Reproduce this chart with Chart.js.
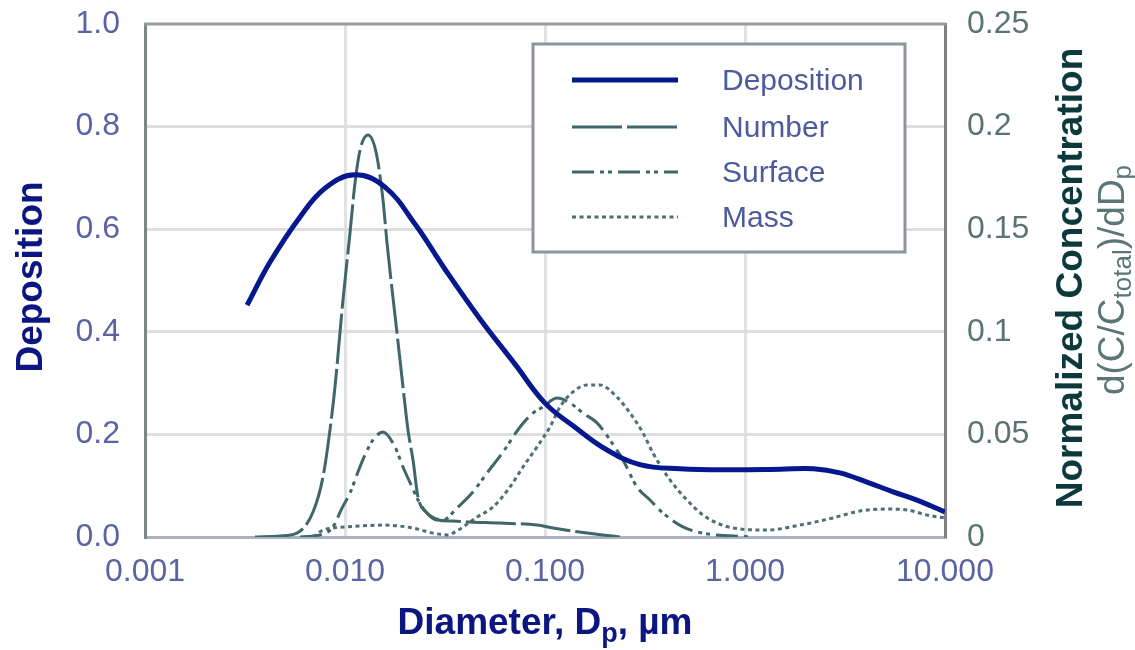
<!DOCTYPE html>
<html>
<head>
<meta charset="utf-8">
<script src="https://cdn.jsdelivr.net/npm/chart.js@4.4.0/dist/chart.umd.min.js"></script>
<style>
  html, body { margin: 0; padding: 0; background: #fff; }
  #wrap { width: 1135px; height: 650px; position: relative; }
</style>
</head>
<body>
<div id="wrap"><canvas id="chart" width="1135" height="650"></canvas></div>
<script>
// Diameter (um) and values
const depX = [0.00324, 0.00422, 0.00596, 0.00794, 0.0112, 0.01585, 0.02239, 0.03162, 0.04732, 0.07079, 0.1, 0.1413, 0.1995, 0.2985, 0.4732, 0.871, 1.5, 2.2, 2.985, 4.07, 5.50, 7.24, 10];
const depY = [0.452, 0.536, 0.624, 0.680, 0.706, 0.682, 0.610, 0.522, 0.425, 0.337, 0.261, 0.214, 0.172, 0.141, 0.133, 0.131, 0.132, 0.133, 0.125, 0.107, 0.088, 0.072, 0.049];

const numX = [0.00355, 0.00473, 0.00575, 0.00692, 0.00776, 0.00841, 0.00891, 0.00977, 0.01059, 0.01122, 0.01189, 0.01303, 0.01429, 0.01549, 0.01622, 0.0182, 0.0195, 0.02065, 0.02188, 0.02317, 0.0257, 0.02884, 0.03467, 0.04217, 0.05957, 0.0912, 0.1096, 0.1622, 0.195, 0.237];
const numY = [0, 0.0005, 0.0019, 0.0122, 0.0292, 0.0521, 0.0731, 0.1155, 0.1481, 0.1725, 0.1886, 0.1959, 0.1876, 0.1642, 0.1433, 0.0994, 0.0731, 0.0521, 0.0375, 0.0195, 0.0117, 0.0083, 0.0078, 0.0073, 0.0068, 0.0058, 0.0044, 0.0019, 0.001, 0];

const surfX = [0.00596, 0.00776, 0.00871, 0.00966, 0.01059, 0.01161, 0.01259, 0.0138, 0.01549, 0.01778, 0.0195, 0.02163, 0.02317, 0.0257, 0.0309, 0.03631, 0.04315, 0.05129, 0.06166, 0.075, 0.0871, 0.0977, 0.1148, 0.1334, 0.1549, 0.182, 0.2113, 0.2455, 0.2884, 0.335, 0.389, 0.4898, 0.6166, 1.059];
const surfY = [0, 0.0015, 0.0049, 0.0141, 0.0214, 0.0317, 0.04, 0.0473, 0.0512, 0.0439, 0.0341, 0.0244, 0.018, 0.0117, 0.0083, 0.0141, 0.0214, 0.0312, 0.0414, 0.0536, 0.0604, 0.0634, 0.0677, 0.0653, 0.0604, 0.0556, 0.0473, 0.0375, 0.0244, 0.018, 0.0117, 0.0049, 0.0019, 0];

const massX = [0.00692, 0.00776, 0.01023, 0.01549, 0.02188, 0.02754, 0.03236, 0.03467, 0.04571, 0.05495, 0.06683, 0.07762, 0.0912, 0.1059, 0.1189, 0.138, 0.1622, 0.1884, 0.2291, 0.2661, 0.309, 0.3467, 0.4217, 0.5129, 0.6166, 0.7244, 0.871, 1.288, 1.884, 2.754, 3.758, 5.129, 6.457, 8.128, 10];
const massY = [0, 0.0034, 0.0049, 0.0058, 0.0044, 0.0019, 0.001, 0.0019, 0.0097, 0.0146, 0.0244, 0.0341, 0.0439, 0.0536, 0.0634, 0.0707, 0.0741, 0.0741, 0.0682, 0.0604, 0.0507, 0.0409, 0.0278, 0.018, 0.0107, 0.0068, 0.0044, 0.0034, 0.0058, 0.0093, 0.0127, 0.0136, 0.0132, 0.0107, 0.0093];

const xTicks = [0.001, 0.01, 0.1, 1, 10];
const seriesNames = ['Deposition', 'Number', 'Surface', 'Mass'];

const pts = (xs, ys) => xs.map((x, i) => ({ x: x, y: ys[i] }));

Chart.defaults.font.family = "'Liberation Sans', Arial, sans-serif";

// frame, axis titles and legend box
const decor = {
    id: 'decor',
    afterDatasetsDraw(chart) {
        const ctx = chart.ctx;
        const a = chart.chartArea;
        ctx.save();

        // top frame line
        ctx.strokeStyle = '#9a9a9a';
        ctx.lineWidth = 3;
        ctx.beginPath();
        ctx.moveTo(a.left - 1, a.top);
        ctx.lineTo(a.right + 1, a.top);
        ctx.stroke();

        // legend
        const lx = 533, ly = 44, lw = 372, lh = 208;
        ctx.fillStyle = '#fff';
        ctx.fillRect(lx, ly, lw, lh);
        ctx.strokeStyle = '#8e939e';
        ctx.strokeRect(lx, ly, lw, lh);
        const rows = [80, 127, 172, 217];
        chart.data.datasets.forEach((ds, i) => {
            ctx.beginPath();
            ctx.setLineDash(ds.borderDash || []);
            ctx.strokeStyle = ds.borderColor;
            ctx.lineWidth = ds.borderWidth;
            ctx.moveTo(572, rows[i]);
            ctx.lineTo(678, rows[i]);
            ctx.stroke();
            ctx.setLineDash([]);
            ctx.fillStyle = '#4d5a9e';
            ctx.font = "30px 'Liberation Sans', Arial, sans-serif";
            ctx.textAlign = 'left';
            ctx.textBaseline = 'alphabetic';
            ctx.fillText(ds.label, 722, rows[i] + 10);
        });

        const big = "bold 37px 'Liberation Sans', Arial, sans-serif";
        const small = "bold 27px 'Liberation Sans', Arial, sans-serif";

        // left title
        ctx.fillStyle = '#0b1680';
        ctx.font = big;
        ctx.save();
        ctx.translate(42, 277);
        ctx.rotate(-Math.PI / 2);
        ctx.textAlign = 'center';
        ctx.fillText('Deposition', 0, 0);
        ctx.restore();

        // x title with subscript
        drawRuns(ctx, [['Diameter, D', big, 0], ['p', small, 8], [', \u00b5m', big, 0]], 545, 634, 0);

        // right titles
        ctx.fillStyle = '#0c3a3c';
        ctx.save();
        ctx.translate(1082, 278);
        ctx.rotate(-Math.PI / 2);
        ctx.textAlign = 'center';
        ctx.font = big;
        ctx.fillText('Normalized Concentration', 0, 0);
        ctx.restore();

        ctx.fillStyle = '#5b7676';
        const reg = "37px 'Liberation Sans', Arial, sans-serif";
        const sub = "26px 'Liberation Sans', Arial, sans-serif";
        drawRuns(ctx, [['d(C/C', reg, 0], ['total', sub, 7], [')/dD', reg, 0], ['p', sub, 7]], 1124, 280, -Math.PI / 2);

        ctx.restore();
    }
};

function drawRuns(ctx, runs, cx, cy, angle) {
    ctx.save();
    ctx.translate(cx, cy);
    ctx.rotate(angle);
    ctx.textAlign = 'left';
    ctx.textBaseline = 'alphabetic';
    let w = 0;
    runs.forEach(r => { ctx.font = r[1]; w += ctx.measureText(r[0]).width; });
    let x = -w / 2;
    runs.forEach(r => {
        ctx.font = r[1];
        ctx.fillText(r[0], x, r[2]);
        x += ctx.measureText(r[0]).width;
    });
    ctx.restore();
}

const noPad = s => { s.paddingTop = 0; s.paddingBottom = 0; };
const teal = '#3f6668';

new Chart(document.getElementById('chart'), {
    type: 'line',
    data: {
        datasets: [
            { label: seriesNames[0], data: pts(depX, depY), yAxisID: 'y', borderColor: '#06188f', borderWidth: 5, borderDash: [], tension: 0.4, cubicInterpolationMode: 'default' },
            { label: seriesNames[1], data: pts(numX, numY), yAxisID: 'y1', borderColor: teal, borderWidth: 3, borderDash: [50, 5] },
            { label: seriesNames[2], data: pts(surfX, surfY), yAxisID: 'y1', borderColor: teal, borderWidth: 3, borderDash: [22, 6, 4, 4, 4, 6] },
            { label: seriesNames[3], data: pts(massX, massY), yAxisID: 'y1', borderColor: '#4d7073', borderWidth: 3, borderDash: [4, 3.5] }
        ]
    },
    options: {
        responsive: false,
        animation: false,
        layout: { padding: { top: 24 } },
        elements: {
            point: { radius: 0 },
            line: { cubicInterpolationMode: 'monotone', fill: false }
        },
        plugins: { legend: { display: false }, tooltip: { enabled: false } },
        scales: {
            x: {
                type: 'logarithmic',
                min: 0.001,
                max: 10,
                afterBuildTicks: s => { s.ticks = xTicks.map(v => ({ value: v })); },
                afterFit: s => { s.height = 113; s.paddingLeft = 0; s.paddingRight = 0; },
                ticks: {
                    color: '#5b64a3',
                    font: { size: 32 },
                    padding: 16,
                    maxRotation: 0,
                    autoSkip: false,
                    callback: v => Number(v).toFixed(3)
                },
                grid: {
                    color: c => (c.tick && (c.tick.value === 0.001 || c.tick.value === 10)) ? 'rgba(0,0,0,0)' : '#e2e2e2',
                    lineWidth: 3,
                    drawTicks: false
                },
                border: { color: '#a9b2bf', width: 3 }
            },
            y: {
                position: 'left',
                min: 0,
                max: 1,
                afterFit: s => { s.width = 145; noPad(s); },
                ticks: {
                    stepSize: 0.2,
                    color: '#5b64a3',
                    font: { size: 32 },
                    padding: 25,
                    callback: v => v.toFixed(1)
                },
                grid: {
                    color: c => (c.tick && (c.tick.value < 0.01 || c.tick.value > 0.99)) ? 'rgba(0,0,0,0)' : '#dedede',
                    lineWidth: 3,
                    drawTicks: false
                },
                border: { color: '#7b8686', width: 3 }
            },
            y1: {
                position: 'right',
                min: 0,
                max: 0.25,
                afterFit: s => { s.width = 190; noPad(s); },
                ticks: {
                    stepSize: 0.05,
                    color: '#5a7474',
                    font: { size: 32 },
                    padding: 22,
                    callback: v => String(+v.toFixed(2))
                },
                grid: { display: false, drawTicks: false },
                border: { color: '#808080', width: 3 }
            }
        }
    },
    plugins: [decor]
});
</script>
</body>
</html>
